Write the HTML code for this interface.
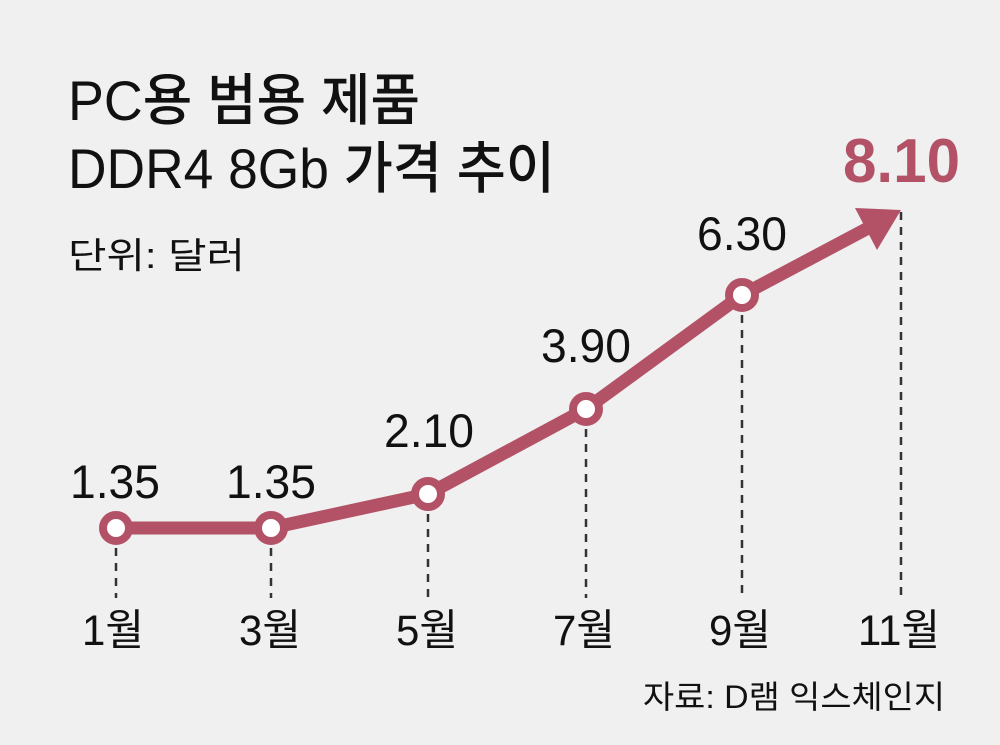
<!DOCTYPE html>
<html><head><meta charset="utf-8"><style>
body{margin:0;background:#f0f0f0;}
svg{display:block;}
text{font-family:"Liberation Sans","Noto Sans CJK KR",sans-serif;fill:#111;}
</style></head><body>
<svg width="1000" height="745" viewBox="0 0 1000 745">
<rect width="1000" height="745" fill="#f0f0f0"/>
<text x="68" y="120" font-size="56" font-weight="500" textLength="352" lengthAdjust="spacingAndGlyphs">PC용 범용 제품</text>
<text x="68" y="188" font-size="56" font-weight="500" textLength="487" lengthAdjust="spacingAndGlyphs">DDR4 8Gb 가격 추이</text>
<text x="68" y="268" font-size="36" fill="#333" textLength="177" lengthAdjust="spacingAndGlyphs">단위: 달러</text>
<g stroke="#333" stroke-width="2.5" stroke-dasharray="8,7">
<line x1="116" y1="548" x2="116" y2="598"/>
<line x1="271" y1="548" x2="271" y2="598"/>
<line x1="428" y1="514" x2="428" y2="598"/>
<line x1="586" y1="429" x2="586" y2="598"/>
<line x1="742" y1="315" x2="742" y2="598"/>
<line x1="901" y1="212" x2="901" y2="598"/>
</g>
<polyline points="116,528 271,528 428,494 586,409 742,295 872,226" fill="none" stroke="#b35266" stroke-width="13" stroke-linejoin="round"/>
<polygon points="855,208 901,210 877,250" fill="#b35266"/>
<g fill="#fff" stroke="#b35266" stroke-width="8">
<circle cx="116" cy="528" r="13"/><circle cx="271" cy="528" r="13"/>
<circle cx="428" cy="494" r="13"/><circle cx="586" cy="409" r="13"/>
<circle cx="742" cy="295" r="13"/>
</g>
<g font-size="47">
<text x="70" y="498" textLength="90" lengthAdjust="spacingAndGlyphs">1.35</text><text x="226" y="498" textLength="90" lengthAdjust="spacingAndGlyphs">1.35</text>
<text x="384" y="447" textLength="90" lengthAdjust="spacingAndGlyphs">2.10</text><text x="541" y="362" textLength="90" lengthAdjust="spacingAndGlyphs">3.90</text>
<text x="697" y="250" textLength="90" lengthAdjust="spacingAndGlyphs">6.30</text>
</g>
<text x="843" y="182" font-size="62" font-weight="bold" textLength="117" lengthAdjust="spacingAndGlyphs" style="fill:#b35266">8.10</text>
<g font-size="43" text-anchor="middle">
<text x="113" y="645" textLength="62" lengthAdjust="spacingAndGlyphs">1월</text><text x="270" y="645" textLength="62" lengthAdjust="spacingAndGlyphs">3월</text>
<text x="427" y="645" textLength="62" lengthAdjust="spacingAndGlyphs">5월</text><text x="584" y="645" textLength="62" lengthAdjust="spacingAndGlyphs">7월</text>
<text x="740" y="645" textLength="62" lengthAdjust="spacingAndGlyphs">9월</text><text x="899" y="645" textLength="82" lengthAdjust="spacingAndGlyphs">11월</text>
</g>
<text x="643" y="708" font-size="32" fill="#333" textLength="302" lengthAdjust="spacingAndGlyphs">자료: D램 익스체인지</text>
</svg>
</body></html>
